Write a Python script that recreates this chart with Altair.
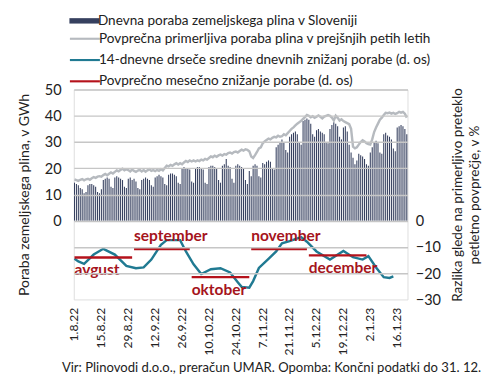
import altair as alt
import pandas as pd

# ---------------- data ----------------
start = pd.Timestamp("2022-08-01")
n_days = 174  # 1.8.22 .. 21.1.23

# daily gas consumption, GWh (Mon..Sun per row)
consumption = [
    14.5, 14.0, 13.5, 12.5, 12.0, 10.5, 11.0,
    13.5, 14.0, 14.0, 13.5, 13.0, 11.0, 10.5,
    12.0, 15.5, 16.0, 16.5, 16.0, 13.0, 12.5,
    16.5, 17.0, 16.5, 16.0, 15.5, 13.0, 12.5,
    16.0, 16.5, 15.5, 16.0, 15.0, 12.5, 12.0,
    15.5, 16.0, 16.5, 16.0, 15.5, 13.5, 13.0,
    16.5, 17.0, 17.5, 17.0, 16.5, 14.0, 13.5,
    17.5, 18.0, 18.0, 17.5, 17.0, 14.5, 14.0,
    20.0, 20.5, 20.0, 20.0, 19.5, 15.0, 14.5,
    20.0, 20.5, 20.5, 20.0, 19.5, 14.5, 14.0,
    20.5, 21.0, 21.0, 20.5, 20.0, 15.5, 14.5,
    21.0, 21.5, 23.5, 21.0, 20.5, 16.0, 14.5,
    21.0, 21.5, 21.0, 20.5, 20.0, 15.5, 14.0,
    19.0, 17.0, 21.0, 21.5, 21.0, 17.0, 16.5,
    22.0, 21.5, 22.5, 23.0, 22.5, 20.0, 19.5,
    28.0, 29.0, 30.0, 31.0, 30.0, 27.0, 26.0,
    32.0, 33.0, 33.5, 34.0, 33.0, 30.0, 29.0,
    38.0, 38.5, 39.0, 38.5, 37.0, 33.0, 32.0,
    34.5, 35.0, 34.0, 33.5, 33.0, 30.0, 29.5,
    35.0, 36.5, 37.5, 37.0, 36.0, 32.0, 31.0,
    35.5, 36.0, 34.0, 29.0, 26.0, 24.0, 21.5,
    23.0, 25.5, 25.0, 24.5, 23.5, 21.5, 21.0,
    26.0, 28.0, 30.0, 30.5, 29.5, 26.0, 25.5,
    33.0, 33.5, 32.5, 32.0, 31.0, 27.5, 26.5,
    35.5, 36.0, 36.5, 36.0, 35.0, 33.0,
]

# comparable average consumption in previous five years, GWh
avg5 = [
    15.8, 15.5, 15.2, 15.6, 15.9, 15.4, 15.8,
    16.0, 15.6, 16.2, 16.6, 16.3, 16.8, 17.0,
    16.8, 17.4, 17.8, 17.3, 17.9, 18.4, 18.0,
    18.6, 19.2, 18.8, 19.4, 19.8, 19.2, 19.6,
    19.3, 18.8, 19.5, 19.0, 18.6, 19.1, 19.4,
    18.8, 19.3, 18.7, 19.2, 19.6, 19.0, 19.3,
    18.9, 19.4, 19.0, 19.6, 19.2, 20.1, 21.0,
    20.7, 21.3, 20.9, 21.5, 21.9, 21.4, 21.9,
    21.5, 22.2, 22.8, 22.4, 23.0, 22.6, 23.0,
    22.6, 23.0, 22.7, 23.3, 23.0, 23.6, 23.3,
    23.9, 24.5, 24.2, 24.8, 24.4, 24.9, 25.2,
    24.8, 25.4, 25.2, 25.8, 26.0, 25.6, 26.2,
    26.4, 26.0, 26.6, 27.1, 26.7, 27.2, 27.0,
    26.5, 24.5, 23.9, 25.0, 26.2, 27.6, 28.0,
    29.5, 30.2, 30.8, 31.3, 31.0, 31.6, 32.0,
    31.8, 32.4, 32.0, 32.2, 33.0, 32.6, 33.4,
    34.2, 35.0, 35.6, 36.3, 37.0, 37.5, 38.1,
    38.8, 39.5, 40.3, 40.0, 39.4, 39.8, 39.2,
    39.6, 40.1, 39.6, 39.0, 39.7, 40.0, 40.3,
    40.0, 39.3, 38.2, 40.0, 39.2, 38.2, 38.7,
    38.0, 37.6, 37.2, 36.8, 35.0, 28.2, 27.6,
    28.0, 29.0, 30.0, 30.7, 30.2, 29.5, 29.2,
    29.0, 31.0, 33.8, 35.5, 37.0, 38.5, 39.3,
    40.3, 41.1, 41.0, 41.2, 40.8, 41.1, 40.7,
    41.0, 41.5, 41.2, 41.5, 40.8, 39.3,
]

# 14-day moving average of daily reductions, % (day index, value)
teal_day = [0, 2, 5, 10, 15, 21, 27, 32, 36, 40, 45, 48, 55, 58, 62, 66, 71,
            76, 81, 85, 87, 91, 93, 96, 101, 105, 108, 112, 118, 121, 126,
            133, 140, 145, 150, 153, 157, 161, 164, 166]
teal_val = [-14.5, -15.5, -16.4, -12.9, -10.7, -12.9, -17.2, -18.1, -17.8,
            -14.8, -9.2, -7.4, -7.4, -11.7, -16.6, -20.3, -18.5, -18.1, -19.7,
            -23.4, -25.2, -25.5, -23.0, -18.0, -14.5, -11.7, -8.6, -7.8, -6.2,
            -8.0, -11.7, -14.8, -11.5, -13.9, -14.8, -13.5, -17.8, -21.5,
            -21.8, -21.2]

# monthly average reduction, %
months = ["avgust", "september", "oktober", "november", "december"]
month_first = [0, 31, 61, 92, 122]
month_last = [30, 60, 91, 121, 152]
month_val = [-14.0, -10.8, -21.5, -10.8, -13.2]
months_above = ["september", "november"]

s_bar = "Dnevna poraba zemeljskega plina v Sloveniji"
s_avg = "Povprečna primerljiva poraba plina v prejšnjih petih letih"
s_teal = "14-dnevne drseče sredine dnevnih znižanj porabe (d. os)"
s_red = "Povprečno mesečno znižanje porabe (d. os)"

# ---------------- tables ----------------
dates = [start + pd.Timedelta(days=i) for i in range(n_days)]
labs = [f"{d.day}.{d.month}.{d.year % 100}" for d in dates]

df_bar = pd.DataFrame({"lab": labs, "v": consumption, "s": s_bar})
df_avg = pd.DataFrame({"lab": labs, "v": avg5, "s": s_avg})
df_teal = pd.DataFrame({"lab": [labs[i] for i in teal_day], "v": teal_val, "s": s_teal})
df_red = pd.DataFrame({
    "m": months,
    "lab": [labs[i] for i in month_first],
    "lab2": [labs[i] for i in month_last],
    "v": month_val,
    "s": s_red,
})

# ---------------- styling ----------------
FONT = "Lato"
NAVY = "#36405f"
GRAY = "#b6babf"
TEAL = "#207a92"
RED = "#b5121b"
TXT = "#222222"

yscale = alt.Scale(domain=[-30, 50], nice=False, zero=False)
xscale = alt.Scale(domain=labs, paddingInner=0.45, paddingOuter=0.1)

x_axis = alt.Axis(values=labs[::14], labelAngle=270, ticks=False, domain=False,
                  grid=False, labelPadding=8, labelFontSize=12.5, labelColor=TXT,
                  title=None, labelFont=FONT)

left_axis = alt.Axis(values=list(range(-20, 51, 10)),
                     labelExpr="datum.value >= 0 ? datum.label : ''",
                     grid=True, gridColor="#c6c6c6", gridWidth=1.5,
                     domain=False, ticks=False, labelPadding=13,
                     labelFontSize=15, labelColor=TXT, labelFont=FONT,
                     title="Poraba zemeljskega plina, v GWh",
                     titleFontSize=14.5, titleFontWeight="normal", titleColor=TXT,
                     titleFont=FONT, titlePadding=13, zindex=1)

right_axis = alt.Axis(orient="right", values=[-30, -20, -10, 0], grid=False,
                      domain=False, ticks=False, labelPadding=8,
                      labelFontSize=15, labelColor=TXT, labelFont=FONT,
                      title=["Razlika glede na primerljivo preteklo",
                             "petletno povprečje, v %"],
                      titleAngle=270, titleFontSize=14, titleFontWeight="normal",
                      titleColor=TXT, titleFont=FONT, titlePadding=8,
                      titleLineHeight=17)

bar_legend = alt.Legend(title=None, orient="none", legendX=4, legendY=-78,
                        symbolType="M-2.5,-0.45H2.5V0.45H-2.5Z", symbolSize=154,
                        symbolStrokeWidth=0, labelOffset=7, labelFontSize=14,
                        labelColor=TXT, labelFont=FONT, labelLimit=420)

line_legend = alt.Legend(title=None, orient="none", legendX=4, legendY=-60,
                         symbolType="M-2.5,0H2.5", symbolSize=154,
                         symbolStrokeWidth=2.2, labelOffset=7, labelFontSize=14,
                         labelColor=TXT, labelFont=FONT, labelLimit=420,
                         rowPadding=7)

line_scale = alt.Scale(domain=[s_avg, s_teal, s_red], range=[GRAY, TEAL, RED])

bars = alt.Chart(df_bar).mark_bar(opacity=1).encode(
    x=alt.X("lab:O", scale=xscale, axis=x_axis, sort=labs),
    y=alt.Y("v:Q", scale=yscale, axis=left_axis),
    fill=alt.Fill("s:N", scale=alt.Scale(domain=[s_bar], range=[NAVY]),
                  legend=bar_legend),
)

avg_line = alt.Chart(df_avg).mark_line(strokeWidth=2.5).encode(
    x=alt.X("lab:O", sort=labs),
    y=alt.Y("v:Q", scale=yscale, axis=None),
    stroke=alt.Stroke("s:N", scale=line_scale, legend=line_legend),
)

teal_line = alt.Chart(df_teal).mark_line(strokeWidth=2.5).encode(
    x=alt.X("lab:O", sort=labs),
    y=alt.Y("v:Q", scale=yscale, axis=right_axis),
    stroke=alt.Stroke("s:N", scale=line_scale, legend=line_legend),
)

red_rules = alt.Chart(df_red).mark_rule(strokeWidth=2.4).encode(
    x=alt.X("lab:O", sort=labs),
    x2="lab2",
    y=alt.Y("v:Q", scale=yscale, axis=None),
    stroke=alt.Stroke("s:N", scale=line_scale, legend=line_legend),
)

txt_kw = dict(align="left", fontWeight="bold", fontSize=16, font=FONT,
              color="#a5141c", baseline="middle")
above = alt.Chart(df_red).transform_filter(
    alt.FieldOneOfPredicate(field="m", oneOf=months_above)
).mark_text(dy=-13, dx=0, **txt_kw).encode(
    x=alt.X("lab:O", sort=labs),
    y=alt.Y("v:Q", scale=yscale, axis=None),
    text="m:N",
)
below = alt.Chart(df_red).transform_filter(
    ~alt.FieldOneOfPredicate(field="m", oneOf=months_above)
).mark_text(dy=13, dx=0, **txt_kw).encode(
    x=alt.X("lab:O", sort=labs),
    y=alt.Y("v:Q", scale=yscale, axis=None),
    text="m:N",
)

chart = alt.layer(bars, avg_line, teal_line, red_rules, above, below).resolve_scale(
    y="independent"
).properties(
    width=345,
    height=217,
    padding={"top": 0, "left": 9, "right": 0, "bottom": 0},
    title=alt.TitleParams(
        text="Vir: Plinovodi d.o.o., preračun UMAR. Opomba: Končni podatki do 31. 12.",
        orient="bottom", anchor="end", fontSize=13.5, fontWeight="normal",
        color=TXT, font=FONT, offset=7),
).configure_view(
    stroke="#c6c6c6", strokeWidth=1.5
).configure(font=FONT)

chart.save("out.html", embed_options={"renderer": "svg", "actions": False})
